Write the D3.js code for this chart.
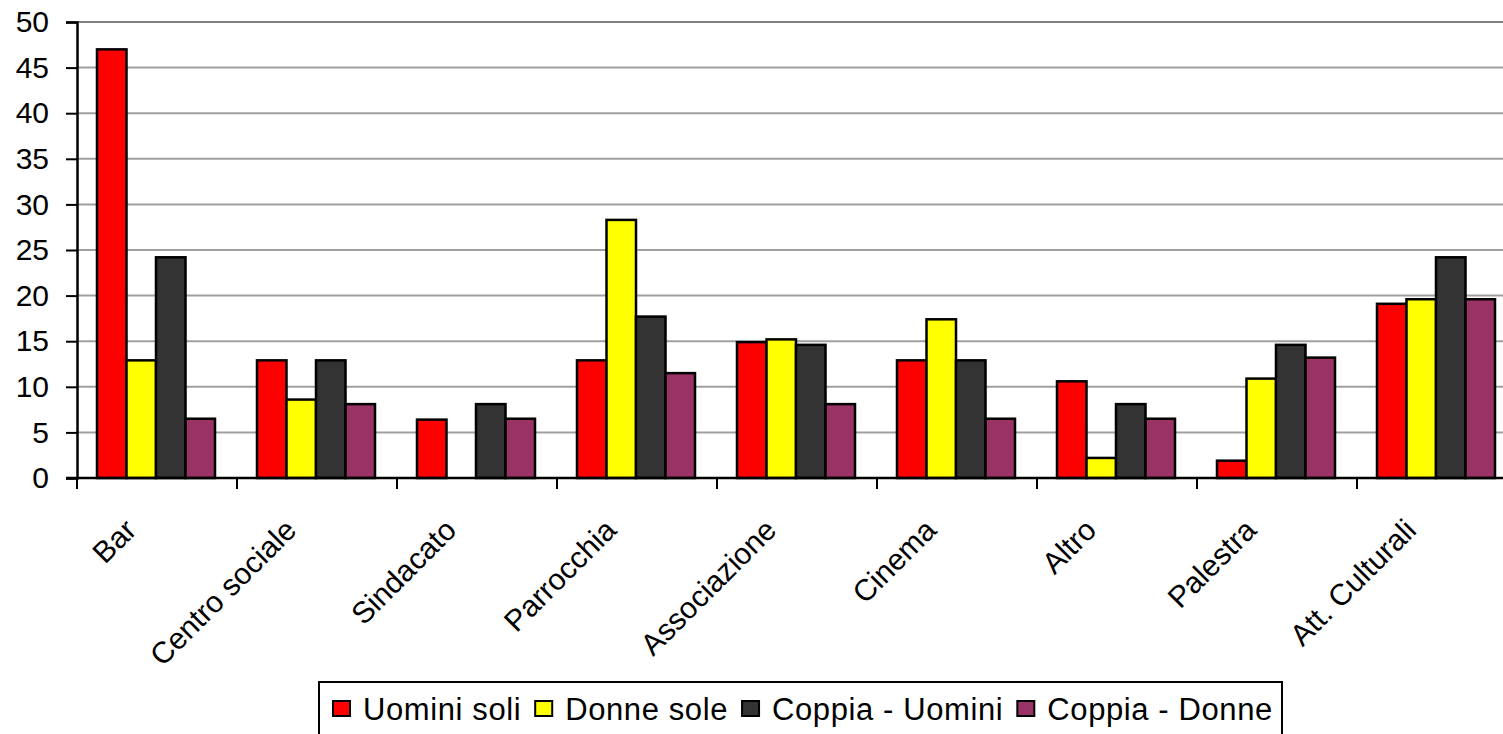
<!DOCTYPE html>
<html>

<head>
	<meta charset="utf-8">
	<script src="https://cdn.jsdelivr.net/npm/d3@7"></script>
	<style type="text/css">
		body {
			margin: 0;
			background: #fff;
			font-family: 'Liberation Sans', Arial, sans-serif;
		}

		svg {
			display: block;
		}
	</style>
	<title>Luoghi frequentati</title>
</head>

<body>
	<script>
		// categories
		var categories = ["Bar", "Centro sociale", "Sindacato", "Parrocchia", "Associazione",
			"Cinema", "Altro", "Palestra", "Att. Culturali"];
		// series names
		var series = ["Uomini soli", "Donne sole", "Coppia - Uomini", "Coppia - Donne"];
		// series values
		var uomini_soli = [47.0, 12.9, 6.4, 12.9, 14.9, 12.9, 10.6, 1.9, 19.1];
		var donne_sole = [12.9, 8.6, 0, 28.3, 15.2, 17.4, 2.2, 10.9, 19.6];
		var coppia_uomini = [24.2, 12.9, 8.1, 17.7, 14.6, 12.9, 8.1, 14.6, 24.2];
		var coppia_donne = [6.5, 8.1, 6.5, 11.5, 8.1, 6.5, 6.5, 13.2, 19.6];
		// y tick labels
		var y_ticks = [0, 5, 10, 15, 20, 25, 30, 35, 40, 45, 50];

		var values = [uomini_soli, donne_sole, coppia_uomini, coppia_donne];
		var colors = ["#ff0000", "#ffff00", "#333333", "#993366"];

		var width = 1503, height = 734;
		var margin = ({ top: 22, left: 77, bottom: 478 });
		var band = 160;

		var svg = d3.select('body')
			.append('svg')
			.attr('width', width)
			.attr('height', height);

		// category scale (the plot runs past the right edge like the original)
		var x_scale = d3.scaleBand()
			.domain(categories)
			.range([margin.left, margin.left + band * categories.length]);
		// series scale inside a category
		var s_scale = d3.scaleBand()
			.domain(series)
			.range([20, 138]);
		var y_scale = d3.scaleLinear()
			.domain([0, 50])
			.range([margin.bottom, margin.top]);

		// grid lines
		svg.append('g')
			.selectAll('line')
			.data(y_ticks.filter(d => d > 0))
			.enter()
			.append('line')
			.attr('x1', margin.left)
			.attr('x2', width)
			.attr('y1', d => y_scale(d))
			.attr('y2', d => y_scale(d))
			.attr('stroke', d => d == 50 ? '#808080' : '#a0a0a0')
			.attr('stroke-width', 2);

		// bars
		series.forEach(function (name, i) {
			svg.append('g')
				.selectAll('rect')
				.data(values[i])
				.enter()
				.append('rect')
				.attr('x', (d, j) => x_scale(categories[j]) + s_scale(name))
				.attr('y', d => y_scale(d))
				.attr('width', s_scale.bandwidth())
				.attr('height', d => y_scale(0) - y_scale(d))
				.attr('fill', colors[i])
				.attr('stroke', '#000')
				.attr('stroke-width', 2.5)
				.style('display', d => d > 0 ? null : 'none');
		});

		// y axis
		var y_axis = svg.append('g')
			.attr('transform', `translate(${margin.left},0)`)
			.call(d3.axisLeft(y_scale).tickValues(y_ticks).tickSize(11).tickPadding(17));
		y_axis.select('.domain').attr('stroke', '#000').attr('stroke-width', 2.5);
		y_axis.selectAll('.tick line').attr('stroke', '#000').attr('stroke-width', 2);
		y_axis.selectAll('.tick text')
			.attr('font-family', "'Liberation Sans', Arial, sans-serif")
			.attr('font-size', 30)
			.attr('fill', '#000');

		// x axis line and ticks at category boundaries
		svg.append('line')
			.attr('x1', margin.left - 11)
			.attr('x2', width)
			.attr('y1', y_scale(0))
			.attr('y2', y_scale(0))
			.attr('stroke', '#000')
			.attr('stroke-width', 2.5);
		svg.append('g')
			.selectAll('line')
			.data(categories)
			.enter()
			.append('line')
			.attr('x1', d => x_scale(d))
			.attr('x2', d => x_scale(d))
			.attr('y1', y_scale(0))
			.attr('y2', y_scale(0) + 11)
			.attr('stroke', '#000')
			.attr('stroke-width', 2);

		// category labels, rotated
		svg.append('g')
			.selectAll('text')
			.data(categories)
			.enter()
			.append('text')
			.attr('transform', d => `translate(${x_scale(d) + x_scale.bandwidth() / 2 - 19},532) rotate(-45)`)
			.attr('text-anchor', 'end')
			.attr('font-size', 30)
			.attr('fill', '#000')
			.text(d => d);

		// legend
		var legend = svg.append('g');
		legend.append('rect')
			.attr('x', 319)
			.attr('y', 682)
			.attr('width', 963)
			.attr('height', 80)
			.attr('fill', '#fff')
			.attr('stroke', '#000')
			.attr('stroke-width', 2);
		var lx = 333;
		series.forEach(function (name, i) {
			legend.append('rect')
				.attr('x', lx)
				.attr('y', 701)
				.attr('width', 17)
				.attr('height', 15)
				.attr('fill', colors[i])
				.attr('stroke', '#000')
				.attr('stroke-width', 2);
			var t = legend.append('text')
				.attr('x', lx + 30)
				.attr('y', 720)
				.attr('font-size', 31)
				.attr('letter-spacing', 0.6)
				.attr('fill', '#000')
				.text(name);
			lx += 30 + t.node().getComputedTextLength() + 14;
		});
	</script>
</body>

</html>
